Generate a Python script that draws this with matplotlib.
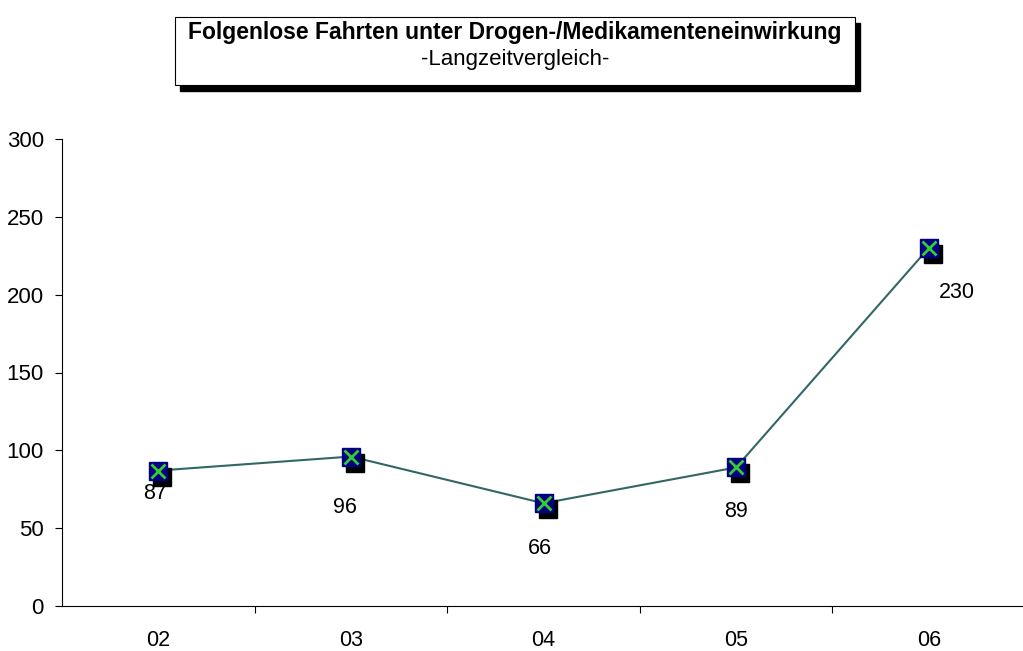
import matplotlib.pyplot as plt
import matplotlib.patches as patches
import matplotlib.transforms as mtransforms

years = ['02', '03', '04', '05', '06']
values = [87, 96, 66, 89, 230]
labels = ['87', '96', '66', '89', '230']
# label offsets in pixels (dx, dy) relative to the point
label_offsets = [(-3, -23), (-6, -51), (-4, -45), (0, -44), (28, -45)]

plt.rcParams['font.family'] = ['Liberation Sans', 'DejaVu Sans']

fig = plt.figure(figsize=(10.23, 6.51), dpi=100)
fig.patch.set_facecolor('white')
ax = fig.add_axes([62 / 1023, 1 - 606 / 651, 963 / 1023, 467 / 651])

x = list(range(len(years)))
ax.plot(x, values, color='#336666', lw=1.5, zorder=2)
shadow = mtransforms.offset_copy(ax.transData, fig=fig, x=4, y=-6, units='dots')
ax.plot(x, values, ls='none', marker='s', ms=13, color='black', transform=shadow, zorder=3)
ax.plot(x, values, ls='none', marker='s', ms=13, markerfacecolor='#000080',
        markeredgecolor='#000080', zorder=4)
ax.plot(x, values, ls='none', marker='x', ms=10.5, mew=2, color='#33cc33', zorder=5)

for xi, v, lab, (dx, dy) in zip(x, values, labels, label_offsets):
    ax.annotate(lab, (xi, v), xytext=(dx * 0.72, dy * 0.72), textcoords='offset points',
                ha='center', va='center', fontsize=15.5)

ax.set_xlim(-0.5, len(years) - 0.5)
ax.set_ylim(0, 300)
ax.set_yticks([0, 50, 100, 150, 200, 250, 300])
ax.set_xticks([i + 0.5 for i in range(len(years) - 1)])
ax.set_xticklabels([])
ax.set_xticks(x, minor=True)
ax.set_xticklabels(years, minor=True)
ax.tick_params(axis='x', which='minor', length=0, pad=17, labelsize=15.5)
ax.tick_params(axis='x', which='major', length=5, direction='out')
ax.tick_params(axis='y', length=5, direction='out', labelsize=16, pad=8)
ax.spines['top'].set_visible(False)
ax.spines['right'].set_visible(False)

# title box with shadow
bx, by, bw, bh = 175 / 1023, 1 - 85 / 651, 680 / 1023, 68 / 651
fig.patches.append(patches.Rectangle((bx + 5 / 1023, by - 6 / 651), bw, bh, transform=fig.transFigure,
                                     facecolor='black', edgecolor='black', zorder=1))
fig.patches.append(patches.Rectangle((bx, by), bw, bh, transform=fig.transFigure,
                                     facecolor='white', edgecolor='black', lw=0.8, zorder=2))
fig.text(515 / 1023, 1 - 32 / 651, 'Folgenlose Fahrten unter Drogen-/Medikamenteneinwirkung',
         ha='center', va='center', fontsize=16.5, fontweight='bold', zorder=3)
fig.text(515 / 1023, 1 - 59 / 651, '-Langzeitvergleich-', ha='center', va='center', fontsize=16, zorder=3)

fig.savefig('out.png', dpi=100)
